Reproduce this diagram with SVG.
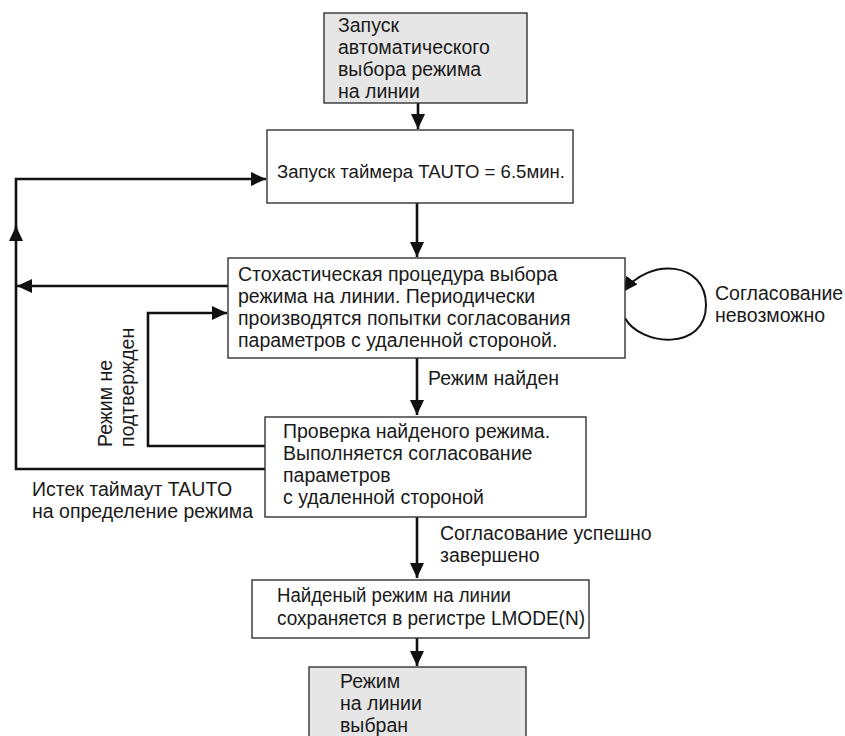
<svg xmlns="http://www.w3.org/2000/svg" width="845" height="736" viewBox="0 0 845 736">
  <style>
    .box { fill: #ffffff; stroke: #333333; stroke-width: 1.4; }
    .term { fill: #e6e6e6; stroke: #333333; stroke-width: 1.4; }
    .lbl { font-family: "Liberation Sans", Arial, sans-serif; font-size: 19.5px; fill: #1a1a1a; }
    .narrow { font-size: 18px; }
    .wire { fill: none; stroke: #111111; stroke-width: 2.6; }
    .wire-thin { fill: none; stroke: #111111; stroke-width: 2; }
  </style>
  <defs>
    <marker id="arrow" markerUnits="userSpaceOnUse" markerWidth="16" markerHeight="14" refX="15" refY="7" orient="auto">
      <path d="M0,0 L15,7 L0,14 Z" fill="#111111"/>
    </marker>
  </defs>

  <rect width="845" height="736" fill="#ffffff"/>

  <!-- connectors -->
  <g id="connectors">
    <path class="wire" d="M418,103 V129" marker-end="url(#arrow)"/>
    <path class="wire" d="M417,203 V257" marker-end="url(#arrow)"/>
    <path class="wire" d="M417,358 V415" marker-end="url(#arrow)"/>
    <path class="wire" d="M417,517 V578" marker-end="url(#arrow)"/>
    <path class="wire" d="M417,638 V666" marker-end="url(#arrow)"/>
    <!-- timeout loop back to the timer -->
    <path class="wire" d="M265,469 H16 V226" marker-end="url(#arrow)"/>
    <path class="wire" d="M16,230 V179 H266" marker-end="url(#arrow)"/>
    <path class="wire" d="M228,286 H17" marker-end="url(#arrow)"/>
    <!-- mode not confirmed -->
    <path class="wire" d="M265,446 H148 V313 H227" marker-end="url(#arrow)"/>
    <!-- negotiation impossible self-loop -->
    <path class="wire-thin" d="M625,318 C640,346 706,352 706,305 C706,262 650,256 623,292" marker-end="url(#arrow)"/>
  </g>

  <g id="start">
    <rect class="term" x="324" y="13" width="203" height="90"/>
    <text class="lbl" x="338" y="32">Запуск</text>
    <text class="lbl" x="338" y="54">автоматического</text>
    <text class="lbl" x="338" y="76">выбора режима</text>
    <text class="lbl" x="338" y="98">на линии</text>
  </g>

  <g id="timer">
    <rect class="box" x="267" y="130" width="306" height="73"/>
    <text class="lbl narrow" x="277" y="178" textLength="288" lengthAdjust="spacingAndGlyphs">Запуск таймера TAUTO = 6.5мин.</text>
  </g>

  <g id="search">
    <rect class="box" x="228" y="258" width="397" height="100"/>
    <text class="lbl" x="238" y="281">Стохастическая процедура выбора</text>
    <text class="lbl" x="238" y="303">режима на линии. Периодически</text>
    <text class="lbl" x="238" y="325">производятся попытки согласования</text>
    <text class="lbl" x="238" y="347">параметров с удаленной стороной.</text>
  </g>

  <g id="check">
    <rect class="box" x="265" y="417" width="321" height="100"/>
    <text class="lbl" x="283" y="438">Проверка найденого режима.</text>
    <text class="lbl" x="283" y="460">Выполняется согласование</text>
    <text class="lbl" x="283" y="482">параметров</text>
    <text class="lbl" x="283" y="504">с удаленной стороной</text>
  </g>

  <g id="store">
    <rect class="box" x="252" y="580" width="337" height="58"/>
    <text class="lbl" x="277" y="602" textLength="234" lengthAdjust="spacingAndGlyphs">Найденый режим на линии</text>
    <text class="lbl" x="277" y="625" textLength="308" lengthAdjust="spacingAndGlyphs">сохраняется в регистре LMODE(N)</text>
  </g>

  <g id="done">
    <rect class="term" x="309" y="667" width="217" height="80"/>
    <text class="lbl" x="340" y="688">Режим</text>
    <text class="lbl" x="340" y="710">на линии</text>
    <text class="lbl" x="340" y="732">выбран</text>
  </g>

  <g id="labels">
    <text class="lbl" x="715" y="300">Согласование</text>
    <text class="lbl" x="715" y="322">невозможно</text>
    <text class="lbl" x="428" y="385">Режим найден</text>
    <text class="lbl" transform="translate(112,447) rotate(-90)">Режим не</text>
    <text class="lbl" transform="translate(134,447) rotate(-90)">подтвержден</text>
    <text class="lbl" x="32" y="496">Истек таймаут TAUTO</text>
    <text class="lbl" x="32" y="518">на определение режима</text>
    <text class="lbl" x="440" y="540">Согласование успешно</text>
    <text class="lbl" x="440" y="562">завершено</text>
  </g>
</svg>
